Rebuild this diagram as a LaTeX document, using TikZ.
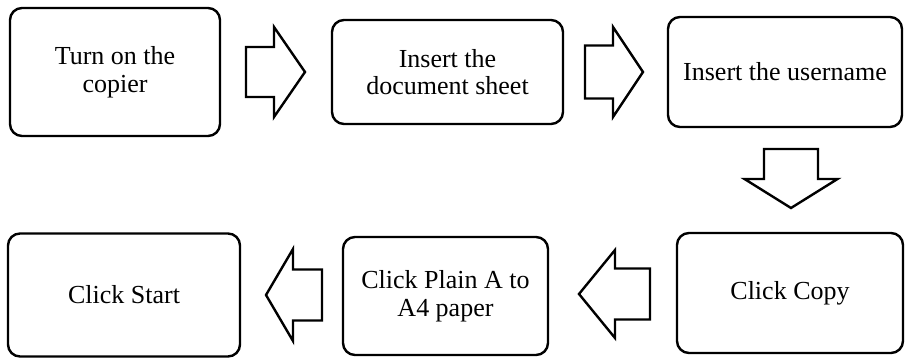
\documentclass[tikz,border=0pt]{standalone}
\usepackage{fontspec}
\setmainfont{Liberation Serif}
\tikzset{
  stepbox/.style={draw, line width=2.4pt, rounded corners=12pt, align=center,
    inner sep=0pt, font=\fontsize{26}{27.5}\selectfont},
  arrowshape/.style={draw, line width=2.4pt, line join=miter, fill=white}
}
% horizontal block arrow: tail x, head-base x, tip x, centre y, shaft half-width, head half-width
\newcommand\hblock[6]{%
  \draw[arrowshape] (#1,{#4-#5}) -- (#2,{#4-#5}) -- (#2,{#4-#6}) -- (#3,#4)
    -- (#2,{#4+#6}) -- (#2,{#4+#5}) -- (#1,{#4+#5}) -- cycle;}
% vertical block arrow: tail y, head-base y, tip y, centre x, shaft half-width, head half-width
\newcommand\vblock[6]{%
  \draw[arrowshape] ({#4-#5},#1) -- ({#4-#5},#2) -- ({#4-#6},#2) -- (#4,#3)
    -- ({#4+#6},#2) -- ({#4+#5},#2) -- ({#4+#5},#1) -- cycle;}
\begin{document}
\begin{tikzpicture}[x=1pt, y=-1pt]
  \useasboundingbox (0,0) rectangle (905,358);

  % first row
  \node[stepbox, minimum width=210pt, minimum height=128pt] (copier) at (115,72)
    {Turn on the\\copier};
  \node[stepbox, minimum width=231pt, minimum height=104pt] (sheet) at (447.5,72)
    {Insert the\\document sheet};
  \node[stepbox, minimum width=234pt, minimum height=110pt] (user) at (785,72)
    {Insert the username};

  % second row
  \node[stepbox, minimum width=232pt, minimum height=123pt] (start) at (124,295)
    {Click Start};
  \node[stepbox, minimum width=205pt, minimum height=118pt] (plain) at (445.5,296)
    {Click Plain A to\\A4 paper};
  \node[stepbox, minimum width=226pt, minimum height=120pt] (copy) at (790,293)
    {Click Copy};

  % block arrows between the steps
  \hblock{246}{274}{305}{72}{25}{45}
  \hblock{585}{613}{643}{72}{26.5}{45}
  \vblock{149}{179}{208}{791}{27}{46.5}
  \hblock{650}{615}{579}{294}{25.5}{44}
  \hblock{322}{293}{266}{295}{25.5}{46}
\end{tikzpicture}
\end{document}
